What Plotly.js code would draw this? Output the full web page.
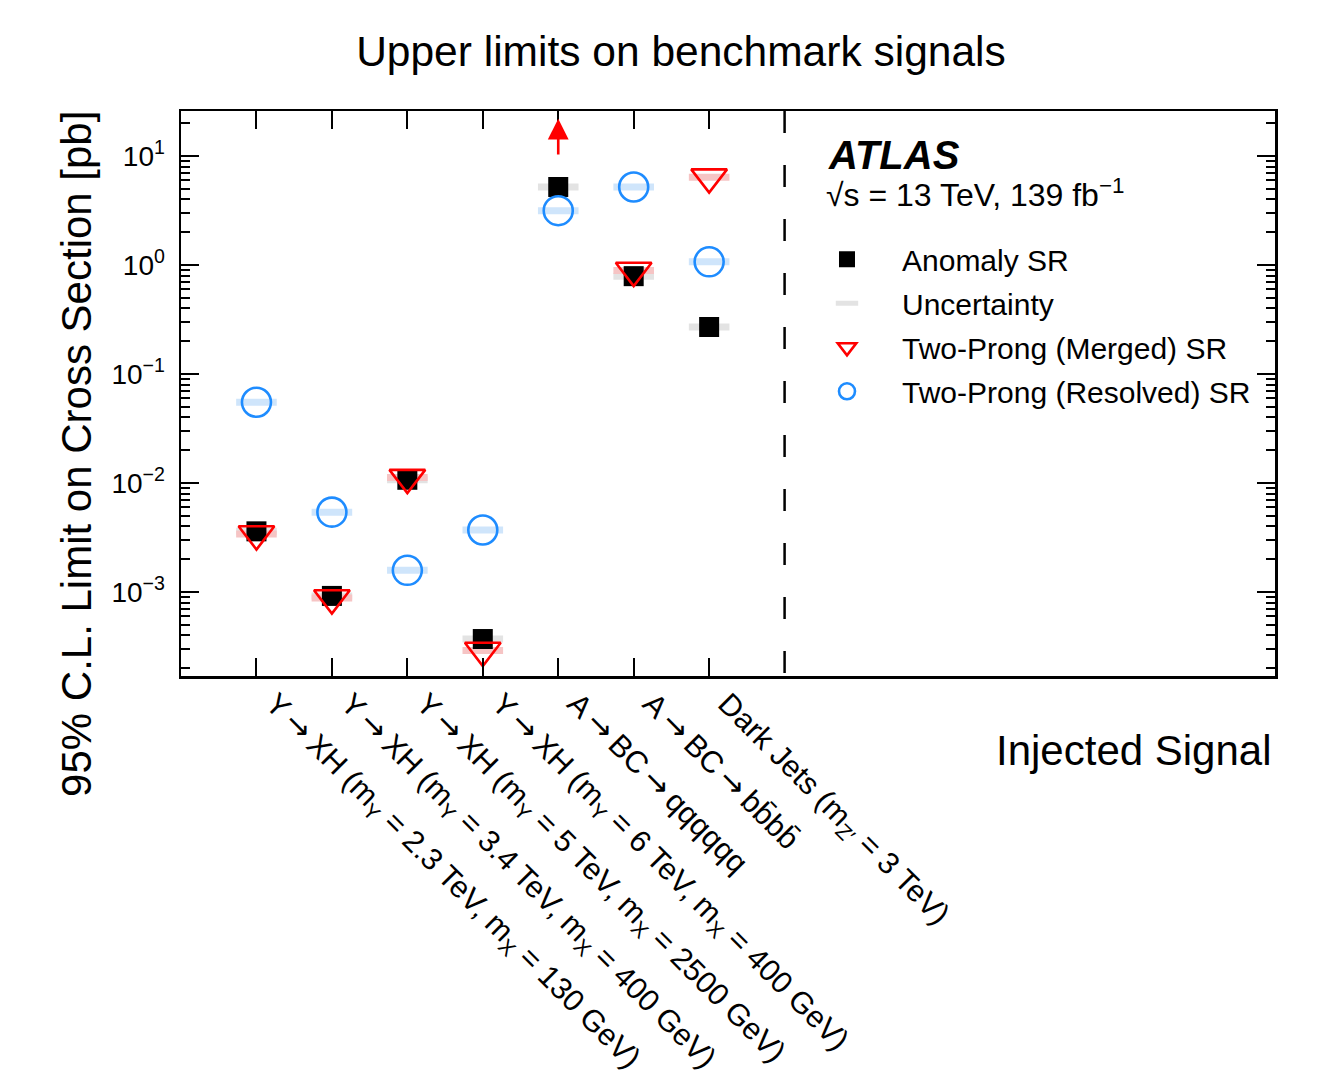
<!DOCTYPE html>
<html>
<head>
<meta charset="utf-8">
<script src="https://cdn.plot.ly/plotly-3.0.1.min.js"></script>
<style>html,body{margin:0;padding:0;background:#fff;}#chart{width:1339px;height:1089px;}</style>
</head>
<body>
<div id="chart"></div>
<script>
// ---- data ----
const ARROW = "<span style=\"font-family:'DejaVu Sans'\">\u2009\u2192\u2009</span>";
const categories = [
  "Y" + ARROW + "XH (m<sub>Y</sub> = 2.3 TeV, m<sub>X</sub> = 130 GeV)",
  "Y" + ARROW + "XH (m<sub>Y</sub> = 3.4 TeV, m<sub>X</sub> = 400 GeV)",
  "Y" + ARROW + "XH (m<sub>Y</sub> = 5 TeV, m<sub>X</sub> = 2500 GeV)",
  "Y" + ARROW + "XH (m<sub>Y</sub> = 6 TeV, m<sub>X</sub> = 400 GeV)",
  "A" + ARROW + "BC" + ARROW + "qqqqqq",
  "A" + ARROW + "BC" + ARROW + "bb\u0304bb\u0304",
  "Dark Jets (m<sub>Z\u2032</sub> = 3 TeV)"
];
const anomalySR  = [0.0036, 0.00092, 0.0107, 0.00037, 5.2, 0.79, 0.27];
const mergedSR   = [0.0034, 0.00088, 0.0112, 0.00029, null, 0.89, 6.4];
const resolvedSR = [0.055, 0.0054, 0.00158, 0.0037, 3.15, 5.2, 1.07];
// merged SR limit for A->BC->qqqqqq is off-scale: drawn as an upward arrow
const offScaleIndex = 4;
const offScaleArrowFrom = 10;      // pb
const offScaleArrowTo = 22;        // pb
const separatorPos = 7;            // dashed separator after the last category
const yTickVals = [1e-3, 1e-2, 1e-1, 1, 10];
const yTickText = ["10<sup>\u22123</sup>", "10<sup>\u22122</sup>", "10<sup>\u22121</sup>", "10<sup>0</sup>", "10<sup>1</sup>"];

const idx = categories.map((c, i) => i);
const FONT = "Liberation Sans, Arial, Helvetica, sans-serif";

function band(vals, color, name, show, rank) {
  return {
    type: "scatter", mode: "markers", x: idx, y: vals, name: name,
    showlegend: show, legendgroup: name, legendrank: rank,
    marker: {symbol: "line-ew", size: 29, color: color, line: {color: color, width: 7}},
    hoverinfo: "skip"
  };
}

const traces = [
  band(anomalySR, "#e3e3e3", "Uncertainty", true, 2),
  band(mergedSR, "#f6c4c4", "mergedband", false, 10),
  band(resolvedSR, "#cfe5fb", "resolvedband", false, 11),
  {type: "scatter", mode: "markers", x: idx, y: anomalySR, name: "Anomaly SR",
   legendgroup: "a", legendrank: 1,
   marker: {symbol: "square", size: 20, color: "#000000"}},
  {type: "scatter", mode: "markers", x: idx, y: mergedSR, name: "Two-Prong (Merged) SR",
   legendgroup: "m", legendrank: 3,
   marker: {symbol: "triangle-down-open", size: 31, color: "#ff0000", line: {color: "#ff0000", width: 2.6}}},
  {type: "scatter", mode: "markers", x: idx, y: resolvedSR, name: "Two-Prong (Resolved) SR",
   legendgroup: "r", legendrank: 4,
   marker: {symbol: "circle-open", size: 29, color: "#1e8cff", line: {color: "#1e8cff", width: 2.6}}}
];

const layout = {
  width: 1339, height: 1089,
  margin: {l: 181, r: 64, t: 111, b: 413},
  paper_bgcolor: "#ffffff", plot_bgcolor: "#ffffff",
  font: {family: FONT, color: "#000000"},
  title: {text: "Upper limits on benchmark signals", font: {size: 42.5, family: FONT},
          xref: "paper", x: 0.457, xanchor: "center", yref: "container", y: 0.953, yanchor: "middle"},
  xaxis: {
    type: "linear", range: [-1, 13.5], tickmode: "array", tickvals: idx, ticktext: categories,
    tickangle: 45, tickfont: {size: 30.5, family: FONT}, ticks: "inside", ticklen: 18, tickwidth: 2,
    ticklabelshift: 18, ticklabelstandoff: -5,
    tickcolor: "#000", mirror: "allticks", showline: true, linewidth: 2.5, linecolor: "#000",
    showgrid: false, zeroline: false, automargin: false
  },
  yaxis: {
    type: "log", range: [-3.771, 1.413], tickmode: "array", tickvals: yTickVals, ticktext: yTickText,
    tickfont: {size: 28, family: FONT}, ticks: "inside", ticklen: 18, tickwidth: 2, tickcolor: "#000",
    ticklabelstandoff: 8,
    minor: {tickmode: "linear", dtick: "D1", ticks: "inside", ticklen: 9, tickwidth: 2, tickcolor: "#000", showgrid: false},
    mirror: "allticks", showline: true, linewidth: 2.5, linecolor: "#000",
    showgrid: false, zeroline: false, automargin: false
  },
  showlegend: true,
  legend: {
    x: 0.5585, xanchor: "left", y: 0.7835, yanchor: "top",
    font: {size: 30, family: FONT}, bgcolor: "rgba(0,0,0,0)",
    itemwidth: 100, traceorder: "grouped", tracegroupgap: 2
  },
  shapes: [
    {type: "line", xref: "x", yref: "paper", x0: separatorPos, x1: separatorPos, y0: 1, y1: 0,
     line: {color: "#000", width: 2.5, dash: "22px,32px"}}
  ],
  annotations: [
    {xref: "x", yref: "y", axref: "x", ayref: "y",
     x: offScaleIndex, y: Math.log10(offScaleArrowTo), ax: offScaleIndex, ay: Math.log10(offScaleArrowFrom),
     text: "", showarrow: true, arrowhead: 2, arrowsize: 1.6, arrowwidth: 2.6, arrowcolor: "#ff0000", standoff: 0},
    {xref: "paper", yref: "paper", x: 0.5896, y: 0.922, xanchor: "left", yanchor: "middle",
     text: "<b><i>ATLAS</i></b>", showarrow: false, font: {size: 40, family: FONT}},
    {xref: "paper", yref: "paper", x: 0.5878, y: 0.855, xanchor: "left", yanchor: "middle",
     text: "\u221As = 13 TeV, 139 fb<sup>\u22121</sup>", showarrow: false, font: {size: 32, family: FONT}},
    {xref: "paper", yref: "paper", x: -0.0951, y: 0.393, xanchor: "center", yanchor: "middle",
     textangle: -90, text: "95% C.L. Limit on Cross Section [pb]", showarrow: false, font: {size: 42, family: FONT}},
    {xref: "paper", yref: "paper", x: 0.999, y: -0.131, xanchor: "right", yanchor: "middle",
     text: "Injected Signal", showarrow: false, font: {size: 42, family: FONT}}
  ]
};

Plotly.newPlot("chart", traces, layout, {displayModeBar: false, staticPlot: true});
</script>
</body>
</html>
